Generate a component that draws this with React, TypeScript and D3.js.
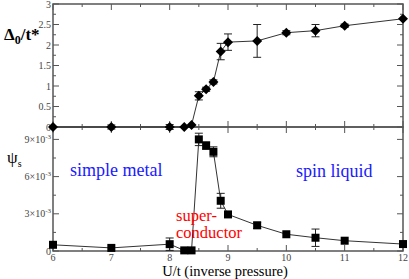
import React from 'react'
import * as d3 from 'd3'

// U/t values for each panel
const gapU = [6, 7, 8, 8.25, 8.375, 8.5, 8.625, 8.75, 8.875, 9, 9.5, 10, 10.5, 11, 12]
const gapVal = [0, 0, 0, 0, 0.05, 0.76, 0.92, 1.1, 1.84, 2.07, 2.1, 2.3, 2.35, 2.47, 2.64]
const gapErr = [0, 0.05, 0.06, 0, 0, 0.1, 0.05, 0.05, 0.2, 0.2, 0.4, 0.05, 0.15, 0.04, 0]

const psiU = [6, 7, 8, 8.25, 8.375, 8.5, 8.625, 8.75, 8.875, 9, 9.5, 10, 10.5, 11, 12]
const psiVal = [0.5e-3, 0.25e-3, 0.55e-3, 0.05e-3, 0.05e-3, 9.0e-3, 8.5e-3, 8.0e-3, 4.05e-3, 2.95e-3, 2.07e-3, 1.35e-3, 1.07e-3, 0.83e-3, 0.56e-3]
const psiErr = [0, 0, 0.5e-3, 0.1e-3, 0, 0.5e-3, 0.3e-3, 0.4e-3, 0.6e-3, 0, 0.25e-3, 0, 0.7e-3, 0, 0]

const xTicks = [6, 7, 8, 9, 10, 11, 12]
const gapTicks = [0, 0.5, 1, 1.5, 2, 2.5, 3]
const psiTicks = [0, 3e-3, 6e-3, 9e-3]

const L = 53
const R = 403
const T1 = 4
const B1 = 127
const B2 = 251

const SERIF = '"Liberation Serif", "DejaVu Serif", serif'

export default function App() {
  const x = d3.scaleLinear().domain([6, 12]).range([L, R])
  const y1 = d3.scaleLinear().domain([0, 3]).range([B1, T1])
  const y2 = d3.scaleLinear().domain([0, 0.01]).range([B2, B1])

  const line1 = d3.line<number>().x((_, i) => x(gapU[i])).y((d) => y1(d))
  const line2 = d3.line<number>().x((_, i) => x(psiU[i])).y((d) => y2(d))

  const xMinor = d3.range(6, 12.01, 0.5)
  const y1Minor = d3.range(0, 3.01, 0.25)
  const y2Minor = d3.range(0, 0.0101, 1.5e-3)

  const axisColor = '#555'
  const tickStyle = { fontFamily: SERIF, fontSize: 10, fill: '#444' }

  const errBars = (us: number[], vs: number[], es: number[], y: d3.ScaleLinear<number, number>) =>
    us.map((u, i) =>
      es[i] > 0 ? (
        <g key={i} stroke="#222" strokeWidth={1}>
          <line x1={x(u)} x2={x(u)} y1={y(vs[i] - es[i])} y2={y(vs[i] + es[i])} />
          <line x1={x(u) - 4} x2={x(u) + 4} y1={y(vs[i] - es[i])} y2={y(vs[i] - es[i])} />
          <line x1={x(u) - 4} x2={x(u) + 4} y1={y(vs[i] + es[i])} y2={y(vs[i] + es[i])} />
        </g>
      ) : null
    )

  return (
    <svg width={409} height={279} style={{ position: 'absolute', left: 0, top: 0, background: '#fff', fontFamily: SERIF }}>
      {/* x ticks */}
      {xMinor.map((v) => {
        const major = Number.isInteger(v)
        const len = major ? 6 : 3
        return (
          <g key={v} stroke={axisColor} strokeWidth={1}>
            <line x1={x(v)} x2={x(v)} y1={T1} y2={T1 + len} />
            <line x1={x(v)} x2={x(v)} y1={B1} y2={B1 - len} />
            <line x1={x(v)} x2={x(v)} y1={B1} y2={B1 + len} />
            <line x1={x(v)} x2={x(v)} y1={B2} y2={B2 - len} />
          </g>
        )
      })}
      {/* y ticks */}
      {y1Minor.map((v, i) => {
        const len = i % 2 === 0 ? 6 : 3
        return (
          <g key={v} stroke={axisColor} strokeWidth={1}>
            <line x1={L} x2={L + len} y1={y1(v)} y2={y1(v)} />
            <line x1={R} x2={R - len} y1={y1(v)} y2={y1(v)} />
          </g>
        )
      })}
      {y2Minor.map((v, i) => {
        const len = i % 2 === 0 ? 6 : 3
        return (
          <g key={v} stroke={axisColor} strokeWidth={1}>
            <line x1={L} x2={L + len} y1={y2(v)} y2={y2(v)} />
            <line x1={R} x2={R - len} y1={y2(v)} y2={y2(v)} />
          </g>
        )
      })}
      <rect x={L} y={T1} width={R - L} height={B1 - T1} fill="none" stroke={axisColor} strokeWidth={1.5} />
      <rect x={L} y={B1} width={R - L} height={B2 - B1} fill="none" stroke={axisColor} strokeWidth={1.5} />

      {/* tick labels */}
      {gapTicks.map((v) => (
        <text key={v} x={L - 2} y={y1(v) + 3.5} textAnchor="end" style={tickStyle}>
          {v}
        </text>
      ))}
      {psiTicks.map((v) =>
        v === 0 ? (
          <text key={v} x={L - 2} y={y2(v) + 3.5} textAnchor="end" style={tickStyle}>
            0
          </text>
        ) : (
          <text key={v} x={L - 2} y={y2(v) + 3.5} textAnchor="end" style={tickStyle}>
            {Math.round(v * 1000)}×10
            <tspan style={{ fontSize: 7 }} dy={-4}>-3</tspan>
          </text>
        )
      )}
      {xTicks.map((v) => (
        <text key={v} x={x(v)} y={261} textAnchor="middle" style={tickStyle}>
          {v}
        </text>
      ))}

      {/* data */}
      <path d={line1(gapVal) as string} fill="none" stroke="#333" strokeWidth={1} />
      {errBars(gapU, gapVal, gapErr, y1)}
      {gapU.map((u, i) => (
        <path key={i} d="M0,-5L5,0L0,5L-5,0Z" transform={`translate(${x(u)},${y1(gapVal[i])})`} fill="#000" />
      ))}
      <path d={line2(psiVal) as string} fill="none" stroke="#333" strokeWidth={1} />
      {errBars(psiU, psiVal, psiErr, y2)}
      {psiU.map((u, i) => (
        <rect key={i} x={x(u) - 4} y={y2(psiVal[i]) - 4} width={8} height={8} fill="#000" />
      ))}

      {/* labels */}
      <text x={4} y={40} style={{ fontFamily: SERIF, fontWeight: 'bold', fontSize: 17, fill: '#000' }}>
        Δ<tspan style={{ fontSize: 12 }} dy={4}>0</tspan>
        <tspan dy={-4}>/t*</tspan>
      </text>
      <text x={7} y={163} style={{ fontFamily: SERIF, fontSize: 17, fill: '#000' }}>
        ψ<tspan style={{ fontSize: 10 }} dy={4}>s</tspan>
      </text>
      <text x={70} y={176} style={{ fontFamily: SERIF, fontSize: 18, fill: '#1a1aff' }}>
        simple metal
      </text>
      <text x={296} y={177} style={{ fontFamily: SERIF, fontSize: 18, fill: '#1a1aff' }}>
        spin liquid
      </text>
      <text x={176} y={221} style={{ fontFamily: SERIF, fontSize: 16.5, fill: '#ff0000' }}>
        super-
      </text>
      <text x={176} y={238} style={{ fontFamily: SERIF, fontSize: 16.5, fill: '#ff0000' }}>
        conductor
      </text>
      <text x={225} y={276} textAnchor="middle" style={{ fontFamily: SERIF, fontSize: 14.5, fill: '#000' }}>
        U/t (inverse pressure)
      </text>
    </svg>
  )
}
